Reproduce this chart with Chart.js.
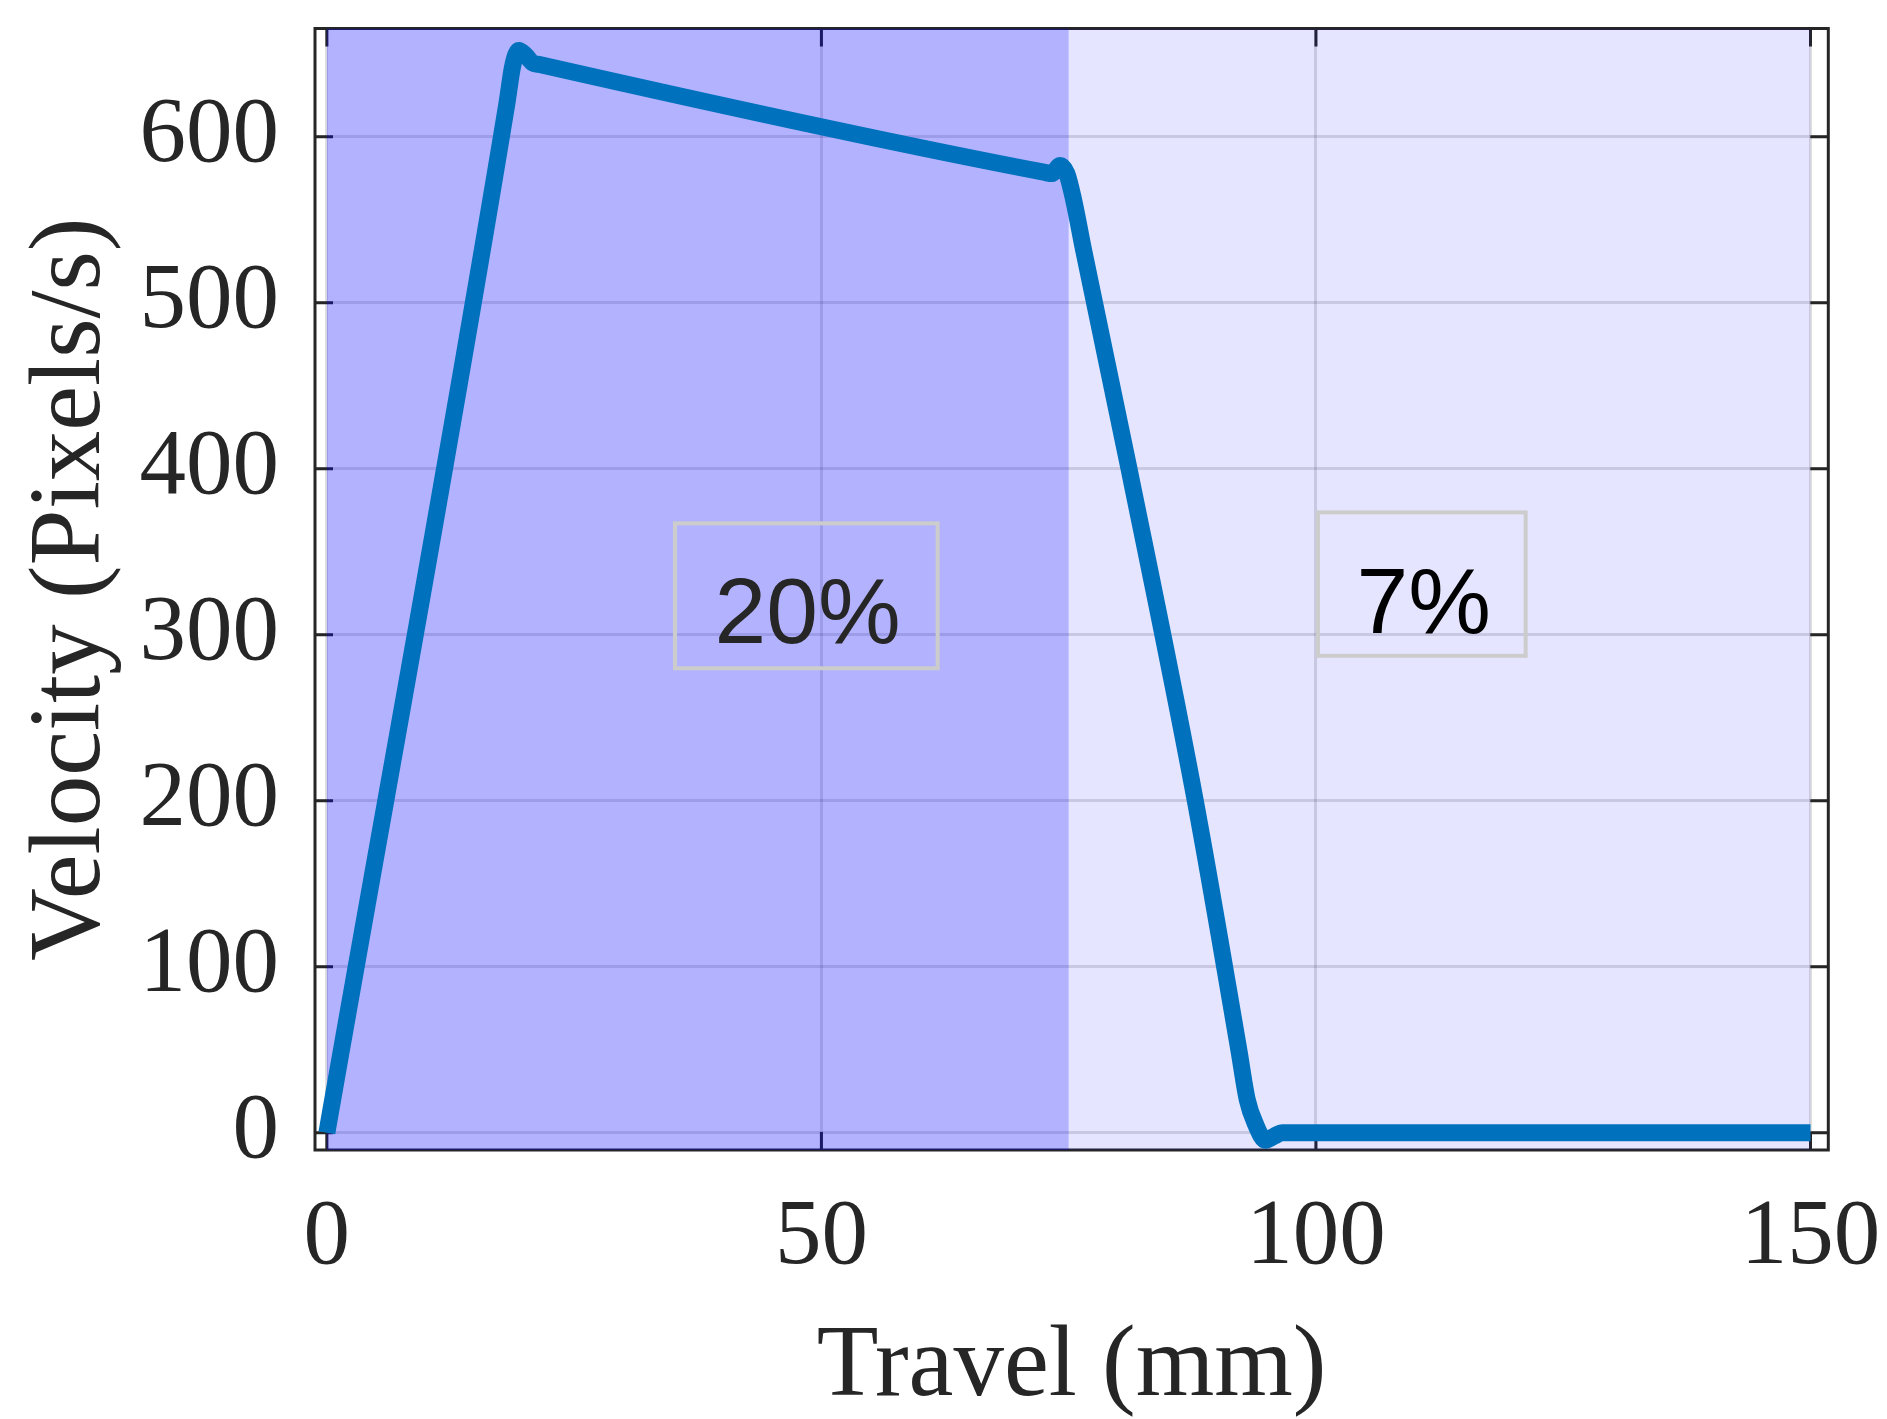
<!DOCTYPE html>
<html><head><meta charset="utf-8">
<script src="https://cdn.jsdelivr.net/npm/chart.js@4.4.1/dist/chart.umd.min.js"></script>
<style>html,body{margin:0;padding:0;background:#fff;overflow:hidden}</style>
</head><body>
<canvas id="c" width="1887" height="1419" style="width:1887px;height:1419px;display:block"></canvas>
<script>
// ---- data ----
const travel   = [0, 18.2, 18.8, 19.4, 20.1, 20.8, 21.5, 72.6, 73.3, 74.1, 74.8, 75.5, 76.5, 81.1, 87.8, 92.2, 93.05, 93.9, 94.9, 95.8, 96.6, 150];
const velocity = [0, 620, 643, 652, 649, 644.5, 643.5, 578.5, 577.8, 582.7, 578, 562, 532, 400, 200, 50, 20, 5, -4.5, -2, 0, 0];
const xTicks = [0, 50, 100, 150];
const yTicks = [0, 100, 200, 300, 400, 500, 600];
const bandStart = [0, 75];
const bandEnd   = [75, 150];
const bandLabels = ['20%', '7%'];

// ---- styling / layout ----
const bandAlpha = [0.3, 0.1];
const labelColors = ['#262626', '#000000'];
const labelBoxes = [ // in data units: x0,x1,y0,y1, text anchor x, baseline y
  {x0: 35.2, x1: 61.75, y0: 279.8, y1: 367.1, tx: 48.6, ty: 295},
  {x0: 100.2, x1: 121.2, y0: 287.3, y1: 373.7, tx: 110.9, ty: 301.2}
];
const SERIF = '"Liberation Serif", "Times New Roman", serif';
const SANS = '"Liberation Sans", Arial, sans-serif';

const points = travel.map((t, i) => ({x: t, y: velocity[i]}));

const decor = {
  id: 'decor',
  beforeDatasetsDraw(chart) {
    const {ctx, chartArea: a, scales: {x, y}} = chart;
    ctx.save();
    ctx.strokeStyle = '#262626';
    ctx.lineWidth = 3;
    ctx.strokeRect(a.left, a.top, a.right - a.left, a.bottom - a.top);
    ctx.beginPath();
    const L = 18;
    xTicks.forEach(v => {
      const p = x.getPixelForValue(v);
      ctx.moveTo(p, a.bottom); ctx.lineTo(p, a.bottom - L);
      ctx.moveTo(p, a.top); ctx.lineTo(p, a.top + L);
    });
    yTicks.forEach(v => {
      const p = y.getPixelForValue(v);
      ctx.moveTo(a.left, p); ctx.lineTo(a.left + L, p);
      ctx.moveTo(a.right, p); ctx.lineTo(a.right - L, p);
    });
    ctx.stroke();
    ctx.beginPath();
    ctx.rect(a.left, a.top, a.right - a.left, a.bottom - a.top);
    ctx.clip();
    bandStart.forEach((s, i) => {
      const p0 = x.getPixelForValue(s), p1 = x.getPixelForValue(bandEnd[i]);
      ctx.fillStyle = `rgba(0,0,255,${bandAlpha[i]})`;
      ctx.fillRect(p0, a.top, p1 - p0, a.bottom - a.top);
    });
    ctx.restore();
  },
  afterDatasetsDraw(chart) {
    const {ctx, scales: {x, y}} = chart;
    ctx.save();
    labelBoxes.forEach((b, i) => {
      const X0 = x.getPixelForValue(b.x0), X1 = x.getPixelForValue(b.x1);
      const Y0 = y.getPixelForValue(b.y1), Y1 = y.getPixelForValue(b.y0);
      ctx.strokeStyle = '#cccccc';
      ctx.lineWidth = 4;
      ctx.strokeRect(X0, Y0, X1 - X0, Y1 - Y0);
      ctx.fillStyle = labelColors[i];
      ctx.font = `93px ${SANS}`;
      ctx.textAlign = 'center';
      ctx.textBaseline = 'alphabetic';
      ctx.fillText(bandLabels[i], x.getPixelForValue(b.tx), y.getPixelForValue(b.ty));
    });
    ctx.restore();
  }
};

new Chart(document.getElementById('c'), {
  type: 'line',
  data: {
    datasets: [{
      data: points,
      borderColor: '#0072BD',
      borderWidth: 17,
      pointRadius: 0,
      cubicInterpolationMode: 'monotone',
      borderJoinStyle: 'round',
      borderCapStyle: 'butt',
      fill: false
    }]
  },
  options: {
    responsive: false,
    devicePixelRatio: 1,
    animation: false,
    events: [],
    layout: {padding: {left: 0, right: 58.7, top: 28.5, bottom: 0}},
    plugins: {legend: {display: false}, tooltip: {enabled: false}},
    scales: {
      x: {
        type: 'linear',
        min: -1.2, max: 151.8,
        afterBuildTicks: s => { s.ticks = xTicks.map(v => ({value: v})); },
        afterFit: s => { s.height = 269; s.paddingLeft = 0; s.paddingRight = 0; },
        grid: {color: 'rgba(38,38,38,0.15)', lineWidth: 3, drawTicks: false},
        border: {display: false},
        ticks: {color: '#262626', padding: 42, maxRotation: 0, autoSkip: false,
                font: {family: SERIF, size: 93, lineHeight: 1}},
        title: {display: true, text: 'Travel (mm)', color: '#262626',
                font: {family: SERIF, size: 101, lineHeight: 1}, padding: {top: 27, bottom: 0}}
      },
      y: {
        type: 'linear',
        min: -10.4, max: 665.2,
        afterBuildTicks: s => { s.ticks = yTicks.map(v => ({value: v})); },
        afterFit: s => { s.width = 315; s.paddingTop = 0; s.paddingBottom = 0; },
        grid: {color: 'rgba(38,38,38,0.15)', lineWidth: 3, drawTicks: false},
        border: {display: false},
        ticks: {color: '#262626', padding: 36, autoSkip: false,
                font: {family: SERIF, size: 93, lineHeight: 1}},
        title: {display: true, text: 'Velocity (Pixels/s)', color: '#262626',
                font: {family: SERIF, size: 101, lineHeight: 1}, padding: {top: 22, bottom: 0}}
      }
    }
  },
  plugins: [decor]
});
</script>
</body></html>
